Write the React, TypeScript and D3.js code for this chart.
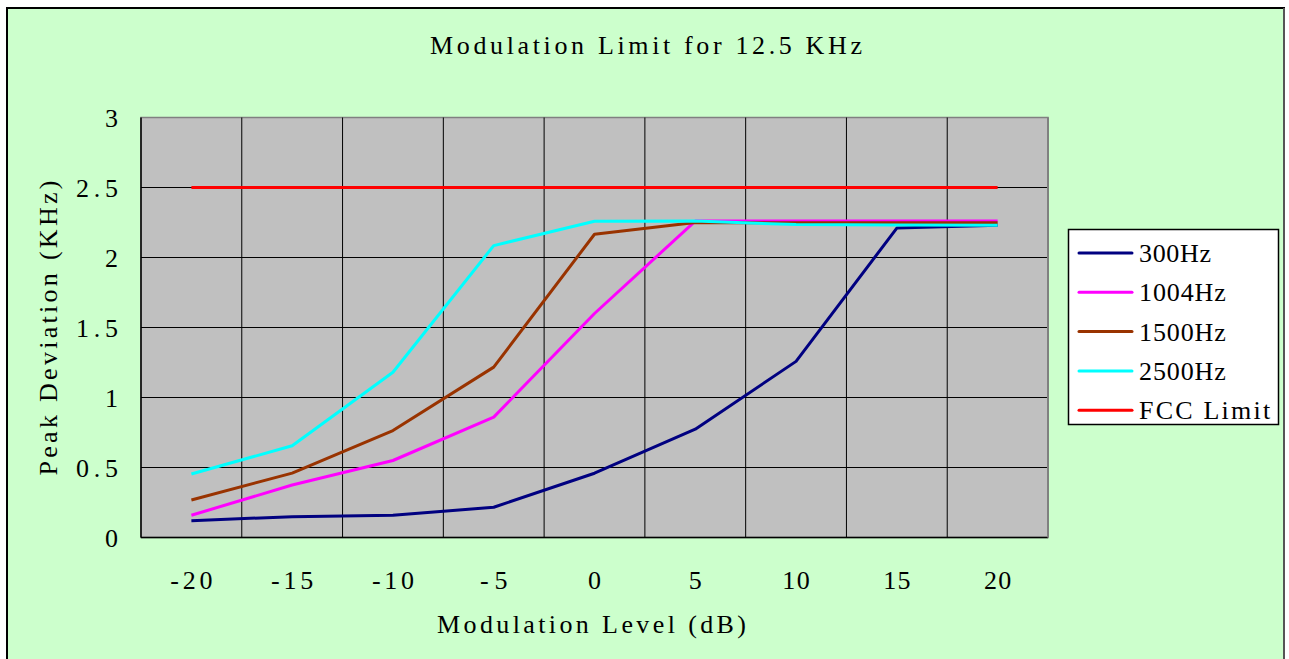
import React from "react";
import * as d3 from "d3";

const categories: string[] = ["-20", "-15", "-10", "-5", "0", "5", "10", "15", "20"];
const yTicks: number[] = [0, 0.5, 1, 1.5, 2, 2.5, 3];
const yTickLabels: string[] = ["0", "0.5", "1", "1.5", "2", "2.5", "3"];

const s300: number[] = [0.12, 0.149, 0.159, 0.216, 0.459, 0.774, 1.258, 2.21, 2.23];
const s1004: number[] = [0.159, 0.375, 0.55, 0.86, 1.6, 2.26, 2.26, 2.26, 2.26];
const s1500: number[] = [0.268, 0.46, 0.764, 1.217, 2.166, 2.25, 2.248, 2.248, 2.248];
const s2500: number[] = [0.454, 0.655, 1.18, 2.085, 2.259, 2.26, 2.235, 2.232, 2.23];
const sFCC: number[] = [2.5, 2.5, 2.5, 2.5, 2.5, 2.5, 2.5, 2.5, 2.5];

const seriesNames: string[] = ["300Hz", "1004Hz", "1500Hz", "2500Hz", "FCC Limit"];
const seriesColors: string[] = ["#000080", "#FF00FF", "#993300", "#00FFFF", "#FF0000"];
const seriesValues: number[][] = [s300, s1004, s1500, s2500, sFCC];

const titleText = "Modulation Limit for 12.5 KHz";
const xTitle = "Modulation Level (dB)";
const yTitle = "Peak Deviation (KHz)";

const FONT = "'Liberation Serif', serif";
const CHAR_W = 14.7;

function fitLen(s: string): number | undefined {
  return s.length > 1 ? s.length * CHAR_W - 2 : undefined;
}

export default function App() {
  const W = 1289;
  const H = 659;
  const left = 141, right = 1048, top = 117.5, bottom = 537.5;

  const x = d3.scaleBand<string>().domain(categories).range([left, right]).padding(0);
  const y = d3.scaleLinear().domain([0, 3]).range([bottom, top]);

  const line = d3
    .line<number>()
    .x((_, i) => (x(categories[i]) as number) + x.bandwidth() / 2)
    .y((d) => y(d));

  const boundaries = categories.map((c) => x(c) as number).concat([right]);

  return (
    <svg
      width={W}
      height={H}
      style={{ position: "absolute", left: 0, top: 0, display: "block" }}
    >
      <rect x={0} y={0} width={W} height={H} fill="#FFFFFF" />
      <rect x={7} y={8} width={1277} height={H + 10} fill="#CCFFCC" stroke="#000" strokeWidth={2} />
      <line x1={1284} y1={8} x2={1284} y2={H} stroke="#555" strokeWidth={2} />

      <text
        x={646}
        y={54}
        textAnchor="middle"
        fontFamily={FONT}
        fontSize={26}
        textLength={432}
        lengthAdjust="spacing"
        fill="#000"
      >
        {titleText}
      </text>

      {/* plot area */}
      <rect x={left} y={top} width={right - left} height={bottom - top} fill="#C0C0C0" stroke="#808080" strokeWidth={1.5} />

      {/* horizontal grid */}
      {yTicks.slice(1, -1).map((t) => (
        <line key={"h" + t} x1={left} x2={right} y1={y(t)} y2={y(t)} stroke="#000" strokeWidth={1} />
      ))}
      {/* vertical grid */}
      {boundaries.slice(1, -1).map((b, i) => (
        <line key={"v" + i} x1={b} x2={b} y1={top} y2={bottom} stroke="#000" strokeWidth={1} />
      ))}

      {/* axes */}
      <line x1={left} x2={left} y1={top} y2={bottom} stroke="#000" strokeWidth={1.5} />
      <line x1={left} x2={right} y1={bottom} y2={bottom} stroke="#000" strokeWidth={1.5} />
      <line x1={right} x2={right} y1={top} y2={bottom} stroke="#808080" strokeWidth={2} />

      {/* y tick labels */}
      {yTicks.map((t, i) => (
        <text
          key={"yt" + t}
          x={118}
          y={y(t) + 9}
          textAnchor="end"
          fontFamily={FONT}
          fontSize={26}
          textLength={fitLen(yTickLabels[i])}
          lengthAdjust="spacing"
          fill="#000"
        >
          {yTickLabels[i]}
        </text>
      ))}

      {/* x tick labels */}
      {categories.map((c) => (
        <text
          key={"xt" + c}
          x={(x(c) as number) + x.bandwidth() / 2}
          y={589}
          textAnchor="middle"
          fontFamily={FONT}
          fontSize={26}
          textLength={fitLen(c)}
          lengthAdjust="spacing"
          fill="#000"
        >
          {c}
        </text>
      ))}

      <text
        x={591.5}
        y={633}
        textAnchor="middle"
        fontFamily={FONT}
        fontSize={26}
        textLength={309}
        lengthAdjust="spacing"
        fill="#000"
      >
        {xTitle}
      </text>

      <text
        transform={`translate(57,328) rotate(-90)`}
        textAnchor="middle"
        fontFamily={FONT}
        fontSize={26}
        textLength={295}
        lengthAdjust="spacing"
        fill="#000"
      >
        {yTitle}
      </text>

      {/* series */}
      {seriesValues.map((vals, i) => (
        <path
          key={"s" + i}
          d={line(vals) || ""}
          fill="none"
          stroke={seriesColors[i]}
          strokeWidth={3}
          strokeLinejoin="round"
        />
      ))}

      {/* legend */}
      <rect x={1068.5} y={229.5} width={210} height={195} fill="#FFFFFF" stroke="#000" strokeWidth={1.5} />
      {seriesNames.map((n, i) => {
        const ly = 253 + i * 39.3;
        return (
          <g key={"lg" + i}>
            <line x1={1079} x2={1132} y1={ly} y2={ly} stroke={seriesColors[i]} strokeWidth={3} strokeLinecap="round" />
            <text
              x={1139}
              y={ly + 9}
              fontFamily={FONT}
              fontSize={26}
              textLength={n.length * 14.8 - 2}
              lengthAdjust="spacing"
              fill="#000"
            >
              {n}
            </text>
          </g>
        );
      })}
    </svg>
  );
}
